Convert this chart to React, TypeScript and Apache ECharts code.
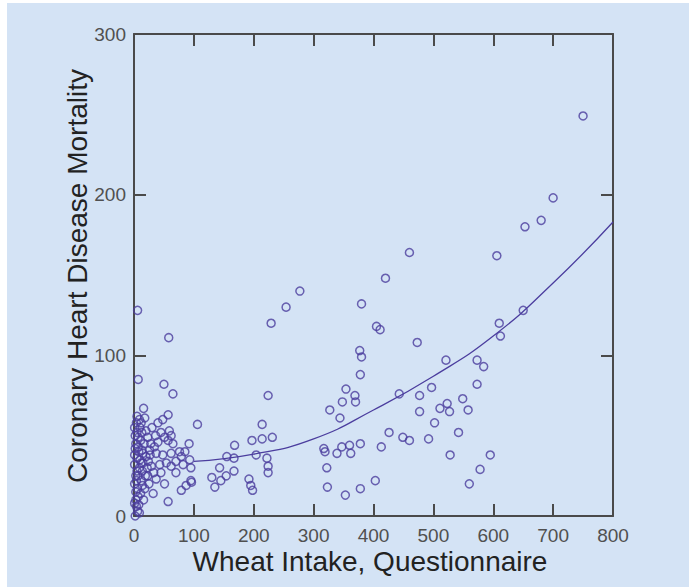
import React, { useEffect, useRef } from "react";
import * as echarts from "echarts";

const xTitle = "Wheat Intake, Questionnaire";
const yTitle = "Coronary Heart Disease Mortality";

// scatter observations [wheat intake, CHD mortality]
const outlierPoints: number[][] = [
  [750, 249], [700, 198], [680, 184], [653, 180], [606, 162], [460, 164], [420, 148],
  [380, 132], [405, 118], [411, 116], [473, 108], [377, 103], [380, 99], [378, 88],
  [521, 97], [573, 97], [584, 93], [610, 120], [612, 112], [650, 128],
];
const rightPoints: number[][] = [
  [497, 80], [573, 82], [477, 75], [549, 73], [523, 70], [511, 67], [527, 65], [558, 66],
  [477, 65], [502, 58], [542, 52], [492, 48], [528, 38], [595, 38], [578, 29], [560, 20],
];
const midPoints: number[][] = [
  [277, 140], [254, 130], [229, 120], [354, 79], [369, 75], [370, 71], [348, 71], [327, 66],
  [344, 61], [443, 76], [224, 75], [214, 57], [197, 47], [214, 48], [231, 49], [168, 44],
  [167, 36], [204, 38], [167, 28], [222, 36], [224, 31], [224, 27], [192, 23], [195, 19],
  [198, 16], [426, 52], [449, 49], [460, 47], [413, 43], [317, 42], [319, 40], [339, 39],
  [347, 43], [360, 44], [362, 39], [378, 45], [322, 30], [323, 18], [353, 13], [378, 17],
  [403, 22], [130, 24], [135, 18], [143, 30], [145, 22], [154, 25], [155, 37], [106, 57],
  [92, 45], [96, 21], [87, 19], [79, 16], [57, 9],
];
const lowPoints: number[][] = [
  [6, 128], [58, 111], [7, 85], [50, 82], [65, 76], [16, 67],
  [5, 62], [18, 61], [12, 58], [57, 63], [48, 60], [1, 55], [20, 53], [7, 49], [23, 49],
  [45, 52], [59, 53], [51, 49], [62, 50], [40, 46], [57, 47], [7, 43], [26, 41], [15, 39],
  [1, 38], [37, 39], [48, 38], [62, 39], [76, 40], [79, 37], [93, 35], [82, 32], [70, 34],
  [95, 30], [1, 32], [15, 33], [29, 31], [43, 32], [54, 33], [62, 31], [7, 25], [23, 25],
  [37, 23], [51, 20], [95, 22], [1, 20], [18, 17], [32, 14], [7, 12], [4, 6], [9, 2], [1, 8],
  [3, 45], [10, 35], [5, 28], [12, 22], [3, 15], [8, 40], [2, 50], [11, 47], [4, 58], [6, 3],
  [2, 0], [14, 28], [20, 37], [28, 45], [33, 27], [25, 20], [10, 55], [16, 10], [30, 55],
  [40, 58], [45, 27], [65, 45], [70, 27], [85, 40], [3, 25], [13, 52], [36, 50], [22, 30],
  [2, 42], [5, 36], [9, 30], [4, 22], [6, 17], [11, 14], [3, 10], [8, 7], [13, 41],
  [17, 45], [12, 33], [19, 25], [24, 34], [5, 52], [9, 60], [14, 19], [27, 38], [34, 43],
];

// fitted curve
const fitX = [100, 200, 300, 400, 500, 600, 700, 800];
const fitY = [34, 38.5, 48, 66, 87, 112, 145, 183];

const xTicks = { min: 0, max: 800, interval: 100 };
const yTicks = { min: 0, max: 300, interval: 100 };

const markColor = "#4b3d9e";
const axisColor = "#4a4a4a";

export default function App() {
  const ref = useRef<HTMLDivElement>(null);
  useEffect(() => {
    if (!ref.current) return;
    const chart = echarts.init(ref.current, undefined, { renderer: "svg" });
    const points = [...outlierPoints, ...rightPoints, ...midPoints, ...lowPoints];
    const axisCommon = {
      type: "value" as const,
      splitLine: { show: false },
      axisLine: { show: true, onZero: false, lineStyle: { color: axisColor, width: 2 } },
      axisTick: { show: true, inside: true, length: 12, lineStyle: { color: axisColor, width: 2 } },
    };
    const labelStyle = { fontSize: 19, color: "#505050", fontFamily: "Liberation Sans, Arial, sans-serif" };
    chart.setOption({
      animation: false,
      backgroundColor: "#d4e3f5",
      grid: { left: 134, top: 34, width: 479, height: 482 },
      xAxis: [
        { ...axisCommon, position: "bottom", ...xTicks, axisLabel: { ...labelStyle, margin: 10 } },
        { ...axisCommon, position: "top", ...xTicks, axisLabel: { show: false } },
      ],
      yAxis: [
        { ...axisCommon, position: "left", ...yTicks, axisLabel: { ...labelStyle, margin: 8 } },
        { ...axisCommon, position: "right", ...yTicks, axisLabel: { show: false } },
      ],
      graphic: [
        { type: "rect", shape: { x: 0, y: 0, width: 7, height: 587 }, style: { fill: "#ffffff" } },
        { type: "rect", shape: { x: 0, y: 0, width: 689, height: 3 }, style: { fill: "#ffffff" } },
        {
          type: "text", x: 370, y: 561,
          style: {
            text: xTitle, fontSize: 28, fill: "#222222", textAlign: "center", textVerticalAlign: "middle",
            fontFamily: "Liberation Sans, Arial, sans-serif",
          },
        },
        {
          type: "text", x: 77, y: 276, rotation: Math.PI / 2,
          style: {
            text: yTitle, fontSize: 28, fill: "#222222", textAlign: "center", textVerticalAlign: "middle",
            fontFamily: "Liberation Sans, Arial, sans-serif",
          },
        },
      ],
      series: [
        {
          type: "scatter",
          data: points,
          symbol: "circle",
          symbolSize: 8,
          itemStyle: { color: "rgba(0,0,0,0)", borderColor: markColor, borderWidth: 1.5 },
        },
        {
          type: "line",
          data: fitX.map((x, i) => [x, fitY[i]]),
          smooth: true,
          showSymbol: false,
          lineStyle: { color: markColor, width: 1.3 },
        },
      ],
    });
    return () => chart.dispose();
  }, []);
  return (
    <div
      ref={ref}
      style={{ position: "fixed", left: 0, top: 0, width: 689, height: 587 }}
    />
  );
}
